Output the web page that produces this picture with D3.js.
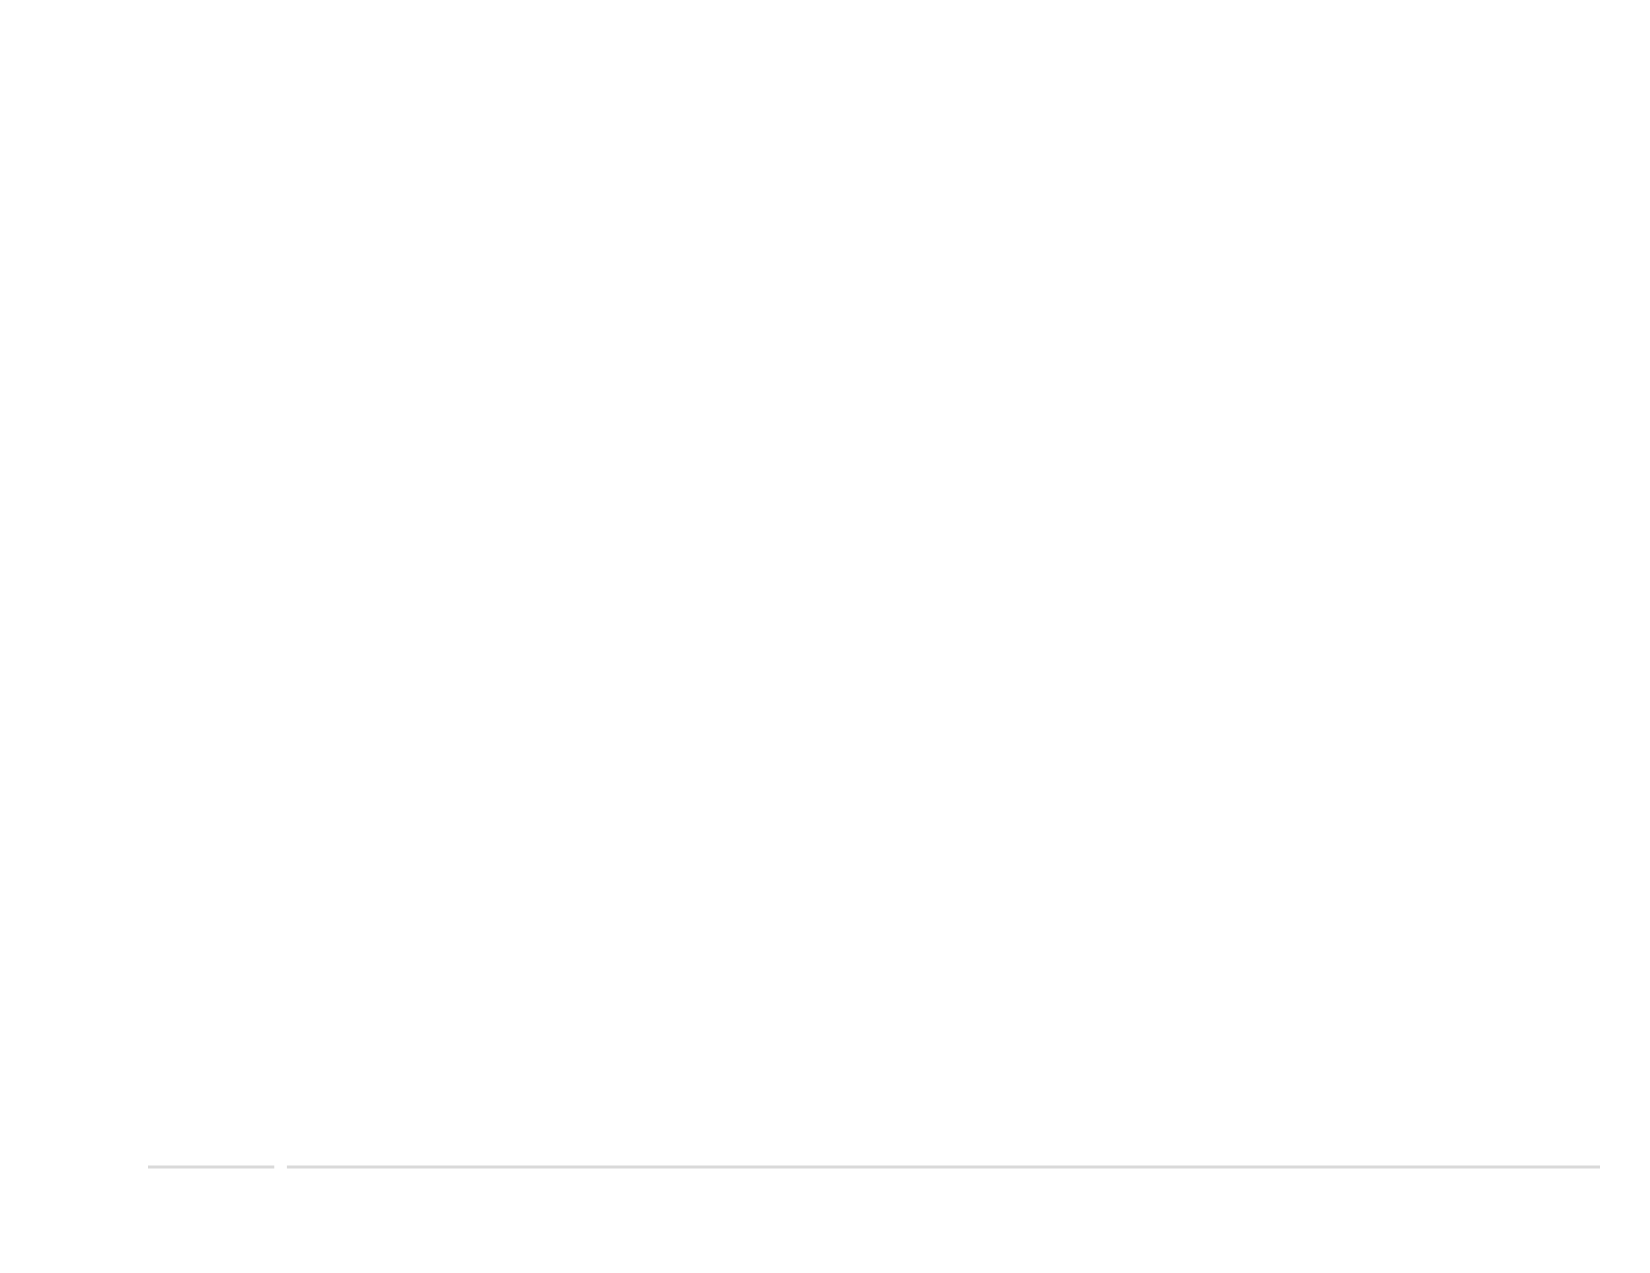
<!DOCTYPE html>
<html><head><meta charset="utf-8">
<script src="https://cdn.jsdelivr.net/npm/d3@7"></script>
<style>body{margin:0;background:#fff}</style></head>
<body><svg id="c" width="1650" height="1273"></svg>
<script>
// Axis baseline segments in data units (the chart shows only an empty axis with a break)
const segmentStarts = [0, 11];
const segmentEnds = [10, 115];
const x = d3.scaleLinear().domain([0, 115]).range([148, 1600]);
const svg = d3.select("#c");
svg.selectAll("line.seg").data(segmentStarts).enter().append("line")
  .attr("x1", (d) => x(d)).attr("x2", (d, i) => x(segmentEnds[i]))
  .attr("y1", 1167).attr("y2", 1167)
  .attr("stroke", "#d9d9d9").attr("stroke-width", 3);
</script></body></html>
